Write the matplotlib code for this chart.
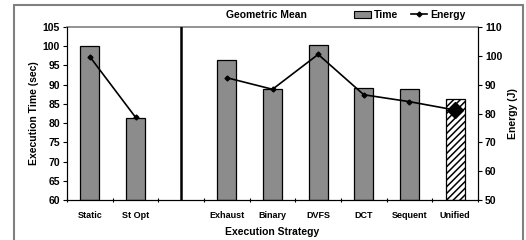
import numpy as np
import matplotlib
matplotlib.use("Agg")
import matplotlib.pyplot as plt
from matplotlib.patches import Rectangle, Patch
from matplotlib.lines import Line2D

categories = ["Static", "St Opt", "", "Exhaust", "Binary", "DVFS", "DCT", "Sequent", "Unified"]
time_vals = [100.0, 81.2, np.nan, 96.3, 88.8, 100.2, 89.1, 89.0, 86.2]
energy_vals = [99.7, 78.7, np.nan, 92.4, 88.4, 100.5, 86.5, 84.1, 81.2]

plt.rcParams['font.family'] = ['Liberation Sans', 'DejaVu Sans']
plt.rcParams['font.weight'] = 'bold'
plt.rcParams['hatch.linewidth'] = 1.1

fig = plt.figure(figsize=(5.26, 2.40), dpi=100)
W, H = 526, 240
ax = fig.add_axes([67/W, 1-200/H, (478-67)/W, (200-27)/H])
x = np.arange(len(categories))
bw = 0.42
for i, v in enumerate(time_vals):
    if np.isnan(v):
        continue
    if categories[i] == "Unified":
        ax.bar(x[i], v - 60, bottom=60, width=bw, color='white', edgecolor='black',
               hatch='/////', linewidth=0.9, zorder=2)
    else:
        ax.bar(x[i], v - 60, bottom=60, width=bw, color='#8c8c8c', edgecolor='black',
               linewidth=0.9, zorder=2)
ax.set_xlim(-0.5, 8.5)
ax.set_ylim(60, 105)
ax.set_yticks(np.arange(60, 106, 5))
ax.set_xticks(x)
ax.set_xticklabels(categories, fontsize=6.5, fontweight='bold')
ax.tick_params(axis='x', which='major', length=0, pad=8)
ax.set_xticks(np.arange(-0.5, 8.6, 1), minor=True)
ax.tick_params(axis='x', which='minor', length=3, direction='inout', width=0.8)
ax.tick_params(axis='y', labelsize=7.5, length=3, width=0.8, pad=2)
for lab in ax.get_yticklabels():
    lab.set_fontweight('bold')
ax.set_ylabel("Execution Time (sec)", fontsize=7.5, fontweight='bold', labelpad=3)
ax.set_xlabel("Execution Strategy", fontsize=7.5, fontweight='bold', labelpad=5)
ax.spines['top'].set_color('#808080')
ax.spines['top'].set_linewidth(1.2)
ax.axvline(2.0, color='black', linewidth=1.8, zorder=3)

ax2 = ax.twinx()
ax2.set_ylim(50, 110)
ax2.set_yticks(np.arange(50, 111, 10))
ax2.tick_params(axis='y', labelsize=7.5, length=3, width=0.8, pad=2)
for lab in ax2.get_yticklabels():
    lab.set_fontweight('bold')
ax2.set_ylabel("Energy (J)", fontsize=7.5, fontweight='bold', labelpad=4)
ax2.spines['top'].set_visible(False)
ax2.plot(x, energy_vals, color='black', linewidth=1.2, marker='D', markersize=2.5, zorder=4)
ax2.plot([x[-1]], [energy_vals[-1]], color='black', marker='D', markersize=8, linestyle='none', zorder=5)

fig.text(266/W, 1-15/H, "Geometric Mean", fontsize=7.5, fontweight='bold', ha='center', va='center')
handles = [Patch(facecolor='#8c8c8c', edgecolor='black', linewidth=0.8),
           Line2D([0], [0], color='black', linewidth=1.2, marker='D', markersize=2.5)]
fig.legend(handles, ["Time", "Energy"], loc='center', bbox_to_anchor=(410/W, 1-15/H),
           ncol=2, frameon=False, handlelength=1.6, handletextpad=0.3,
           columnspacing=1.2, prop={'weight': 'bold', 'size': 7.5})

fig.patches.append(Rectangle((14/W, -0.05), (523-14)/W, 1.05-5/H, transform=fig.transFigure,
                             fill=False, edgecolor='#808080', linewidth=1.5))

fig.savefig("out.png", dpi=100)
